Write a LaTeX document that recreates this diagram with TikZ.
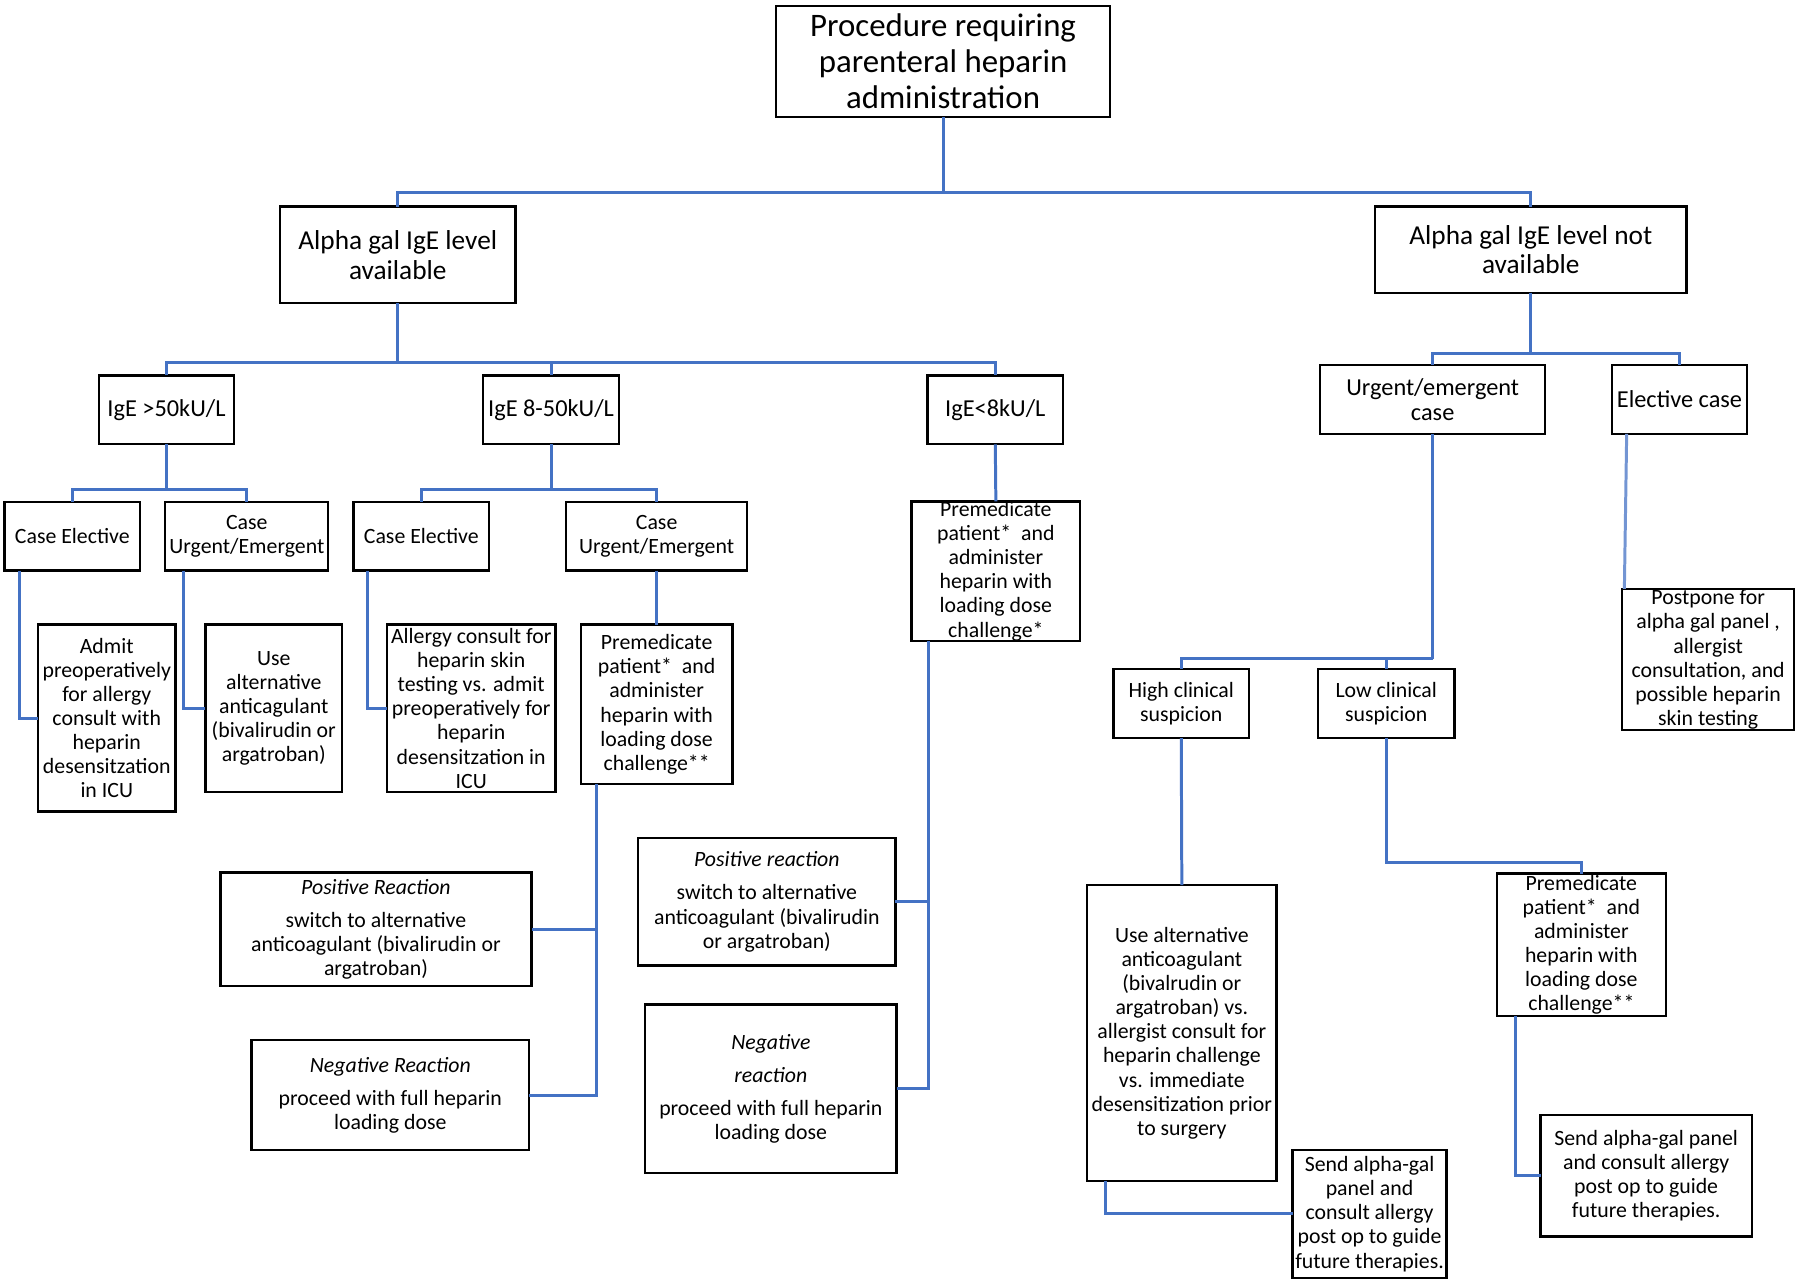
\documentclass[tikz,border=0pt]{standalone}
\usepackage{fontspec}
\setmainfont{Carlito}
\usetikzlibrary{calc}
\definecolor{lnblue}{HTML}{4472C4}
\tikzset{
  box/.style={draw=black, line width=1pt, fill=white, align=center, inner sep=0pt, outer sep=0pt, font=\fontsize{9.5}{10.5}\selectfont},
  ttl/.style={font=\fontsize{14.3}{15.8}\selectfont},
  lvl/.style={font=\fontsize{11.9}{13}\selectfont},
  mid/.style={font=\fontsize{10.6}{11}\selectfont},
  conn/.style={draw=lnblue, line width=1.3pt},
}
\newcommand{\bx}[7][]{%
  \node[box,#1,minimum width={(#5-#3)*0.5pt},minimum height={(#6-#4)*0.5pt}] (#2) at ({(#3+#5)/2},{(#4+#6)/2}) {#7};}
\begin{document}
\begin{tikzpicture}[x=0.5pt,y=-0.5pt]
\useasboundingbox (0,0) rectangle (1568,1120);
% level 0-1
\bx[ttl]{top}{676}{5}{967}{102}{Procedure requiring\\parenteral heparin\\administration}
\bx[lvl]{avail}{244}{180}{449}{264}{Alpha gal IgE level\\available}
\bx[lvl]{notavail}{1198}{180}{1469}{255}{Alpha gal IgE level not\\available}
% level 2
\bx[mid]{ige50}{86}{327}{204}{387}{IgE >50kU/L}
\bx[mid]{ige850}{421}{327}{539}{387}{IgE 8-50kU/L}
\bx[mid]{ige8}{808}{327}{926}{387}{IgE<8kU/L}
\bx[mid]{urgent}{1150}{318}{1346}{378}{Urgent/emergent\\case}
\bx[mid]{elective}{1404}{318}{1522}{378}{Elective case}
% level 3
\bx{ce1}{4}{437}{122}{497}{Case Elective}
\bx{cu1}{144}{437}{286}{497}{Case\\Urgent/Emergent}
\bx{ce2}{308}{437}{426}{497}{Case Elective}
\bx{cu2}{493}{437}{651}{497}{Case\\Urgent/Emergent}
\bx{premed2}{794}{437}{941}{558}{Premedicate\\patient*~ and\\administer\\heparin with\\loading dose\\challenge*}
\bx{postpone}{1413}{513}{1563}{636}{Postpone for\\alpha gal panel ,\\allergist\\consultation, and\\possible heparin\\skin testing}
\bx{high}{970}{583}{1088}{643}{High clinical\\suspicion}
\bx{low}{1148}{583}{1267}{643}{Low clinical\\suspicion}
% level 4
\bx{admit}{33}{544}{153}{707}{Admit\\preoperatively\\for allergy\\consult with\\heparin\\desensitzation\\in ICU}
\bx{usealt}{179}{544}{298}{690}{Use\\alternative\\anticagulant\\(bivalirudin or\\argatroban)}
\bx{allergy}{337}{544}{484}{690}{Allergy consult for\\heparin skin\\testing vs. admit\\preoperatively for\\heparin\\desensitzation in\\ICU}
\bx{premed1}{506}{544}{638}{683}{Premedicate\\patient*~ and\\administer\\heparin with\\loading dose\\challenge**}
% reactions
\bx{posR1}{192}{760}{463}{859}{\textit{Positive Reaction}\\[4pt]switch to alternative\\anticoagulant (bivalirudin or\\argatroban)}
\bx{negR1}{219}{906}{461}{1002}{\textit{Negative Reaction}\\[4pt]proceed with full heparin\\loading dose}
\bx{posR2}{556}{730}{780}{841}{\textit{Positive reaction}\\[4pt]switch to alternative\\anticoagulant (bivalirudin\\or argatroban)}
\bx{negR2}{562}{875}{781}{1022}{\textit{Negative}\\[4pt]\textit{reaction}\\[4pt]proceed with full heparin\\loading dose}
% right bottom
\bx{usealt2}{947}{771}{1112}{1029}{Use alternative\\anticoagulant\\(bivalrudin or\\argatroban) vs.\\allergist consult for\\heparin challenge\\vs. immediate\\desensitization prior\\to surgery}
\bx{send1}{1126}{1002}{1260}{1113}{Send alpha-gal\\panel and\\consult allergy\\post op to guide\\future therapies.}
\bx{premed3}{1304}{761}{1451}{885}{Premedicate\\patient*~ and\\administer\\heparin with\\loading dose\\challenge**}
\bx{send2}{1342}{971}{1526}{1077}{Send alpha-gal panel\\and consult allergy\\post op to guide\\future therapies.}
% connectors
\draw[conn] (top.south) -- ++(0,66) coordinate (j1);
\draw[conn] (avail.north) |- (j1) -| (notavail.north);
\draw[conn] (avail.south) -- (avail.south |- 0,316) coordinate (j2);
\draw[conn] (ige50.north) |- (j2) -| (ige8.north);
\draw[conn] (ige850.north) -- (ige850.north |- j2);
\draw[conn] (ige50.south) -- (ige50.south |- 0,426) coordinate (j3);
\draw[conn] (ce1.north) |- (j3) -| (cu1.north);
\draw[conn] (ige850.south) -- (ige850.south |- 0,426) coordinate (j4);
\draw[conn] (ce2.north) |- (j4) -| (cu2.north);
\draw[conn] ($(ce1.south west)+(13,0)$) |- (admit.west);
\draw[conn] ($(cu1.south west)+(16,0)$) |- (usealt.west);
\draw[conn] ($(ce2.south west)+(12,0)$) |- (allergy.west);
\draw[conn] (cu2.south) -- (premed1.north);
\draw[conn] (ige8.south) -- (premed2.north);
\draw[conn] ($(premed1.south west)+(14,0)$) coordinate (p1) |- (negR1.east);
\draw[conn] (p1) |- (posR1.east);
\draw[conn] ($(premed2.south west)+(15,0)$) coordinate (p2) |- (negR2.east);
\draw[conn] (p2) |- (posR2.east);
\draw[conn] (notavail.south) -- (notavail.south |- 0,308) coordinate (j5);
\draw[conn] (urgent.north) |- (j5) -| (elective.north);
\draw[conn, draw=lnblue!75] ($(elective.south west)+(13,0)$) -- ($(postpone.north west)+(2,0)$);
\draw[conn] (urgent.south) -- (urgent.south |- 0,574) coordinate (j6);
\draw[conn] (high.north) |- (j6);
\draw[conn] (low.north) -- (low.north |- j6);
\draw[conn] (high.south) -- (usealt2.north);
\draw[conn] ($(usealt2.south west)+(16,0)$) |- (send1.west);
\draw[conn] (low.south) |- ($(premed3.north)+(0,-10)$) -- (premed3.north);
\draw[conn] ($(premed3.south west)+(16,0)$) |- (send2.west);
\end{tikzpicture}
\end{document}
